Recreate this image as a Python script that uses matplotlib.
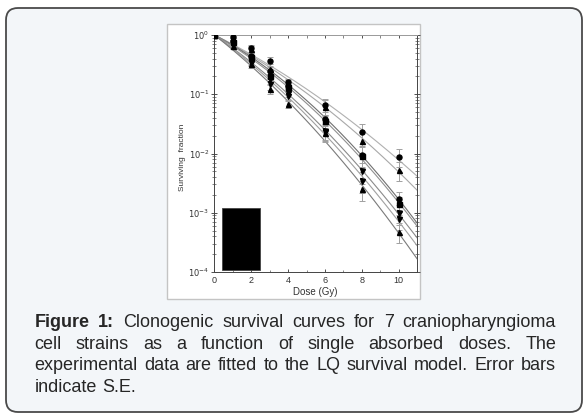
import numpy as np
import matplotlib
matplotlib.use("Agg")
import matplotlib.pyplot as plt
from matplotlib.patches import FancyBboxPatch, Rectangle
from matplotlib.transforms import IdentityTransform
from matplotlib.ticker import LogLocator, FixedLocator, NullFormatter

plt.rcParams['font.family'] = ['Liberation Sans', 'DejaVu Sans']

# ---------------- data ----------------
doses = [0, 1, 2, 3, 4, 6, 8, 10]
strain_a = [1.0, 0.92, 0.60, 0.36, 0.16, 0.065, 0.023, 0.0088]
strain_b = [1.0, 0.86, 0.57, 0.27, 0.15, 0.062, 0.0165, 0.0053]
strain_c = [1.0, 0.80, 0.44, 0.25, 0.14, 0.038, 0.0096, 0.0017]
strain_d = [1.0, 0.76, 0.42, 0.20, 0.13, 0.035, 0.0092, 0.0014]
strain_e = [1.0, 0.72, 0.36, 0.18, 0.105, 0.024, 0.0050, 0.0010]
strain_f = [1.0, 0.68, 0.34, 0.15, 0.095, 0.023, 0.0035, 0.00078]
strain_g = [1.0, 0.65, 0.32, 0.125, 0.068, 0.022, 0.0025, 0.00047]
rel_se = [0.0, 0.10, 0.13, 0.20, 0.15, 0.30, 0.38, 0.34]
markers = ['o', '^', 'o', 's', 'v', 'v', '^']
line_colors = ['#b0b0b0', '#a8a8a8', '#707070', '#909090', '#8a8a8a', '#a0a0a0', '#7a7a7a']
y_tick_values = [1e-4, 1e-3, 1e-2, 1e-1, 1e0]
y_tick_labels = [r'$10^{-4}$', r'$10^{-3}$', r'$10^{-2}$', r'$10^{-1}$', r'$10^{0}$']
x_tick_values = [0, 2, 4, 6, 8, 10]
caption_lines = [
    "Figure 1: Clonogenic survival curves for 7 craniopharyngioma",
    "cell strains as a function of single absorbed doses. The",
    "experimental data are fitted to the LQ survival model. Error bars",
    "indicate S.E.",
]
strains = [strain_a, strain_b, strain_c, strain_d, strain_e, strain_f, strain_g]

W, H = 588, 419
fig = plt.figure(figsize=(W / 100, H / 100), dpi=100)
fig.patch.set_facecolor('white')

# outer rounded box (pixel coords)
box = FancyBboxPatch((6, H - 412), 576, 404,
                     boxstyle='round,pad=0,rounding_size=12',
                     transform=IdentityTransform(), facecolor='#f3f6f9',
                     edgecolor='#4a4a4a', linewidth=1.3, zorder=-5)
fig.add_artist(box)
panel = Rectangle((167, H - 299), 253, 275, transform=IdentityTransform(),
                  facecolor='white', edgecolor='#c4c4c4', linewidth=1.0, zorder=-4)
fig.add_artist(panel)

# axes
L, R, T, B = 213.5, 417, 35, 272
ax = fig.add_axes([L / W, 1 - B / H, (R - L) / W, (B - T) / H])
ax.set_yscale('log')
ax.set_ylim(1e-4, 1.0)
ax.set_xlim(-0.05, 11)

d = np.array(doses, dtype=float)
xx = np.linspace(0, 11, 300)
design = np.column_stack([d, d ** 2])
for s, m, c in zip(strains, markers, line_colors):
    sv = np.array(s)
    coef, *_ = np.linalg.lstsq(design, np.log(sv), rcond=None)
    ax.plot(xx, np.exp(coef[0] * xx + coef[1] * xx ** 2), color=c, lw=0.8, zorder=2)
    ax.errorbar(d, sv, yerr=sv * np.array(rel_se), fmt='none', ecolor='#a0a0a0',
                elinewidth=0.7, capsize=2, capthick=0.7, zorder=3)
    ax.plot(d, sv, linestyle='none', marker=m, color='black', ms=3.6, zorder=4)

# black block (redacted legend)
ax.add_patch(Rectangle((0.43, 1.1e-4), 2.02, 1.19e-3 - 1.1e-4, facecolor='black',
                       edgecolor='#444444', lw=0.6, zorder=5))

ax.yaxis.set_major_locator(FixedLocator(y_tick_values))
ax.set_yticklabels(y_tick_labels)
ax.yaxis.set_minor_locator(LogLocator(base=10, subs=np.arange(2, 10) * 1.0, numticks=20))
ax.yaxis.set_minor_formatter(NullFormatter())
ax.xaxis.set_major_locator(FixedLocator(x_tick_values))
ax.set_xticklabels([str(v) for v in x_tick_values])
ax.xaxis.set_minor_locator(FixedLocator([1, 3, 5, 7, 9, 11]))

ax.tick_params(axis='y', which='major', direction='inout', length=4, width=0.6,
               labelsize=6, pad=1, colors='#333333', left=True, right=True)
ax.tick_params(axis='y', which='minor', direction='inout', length=2.5, width=0.5,
               left=True, right=True, colors='#555555')
ax.tick_params(axis='x', which='major', direction='in', length=2.5, width=0.6,
               labelsize=6.5, pad=3, colors='#333333', top=True, bottom=True)
ax.tick_params(axis='x', which='minor', direction='in', length=1.8, width=0.5,
               top=True, bottom=True, colors='#555555')
for sp in ax.spines.values():
    sp.set_color('#444444')
    sp.set_linewidth(0.7)
ax.spines['top'].set_color('#999999')

fig.text(315 / W, 1 - 292 / H, 'Dose (Gy)', ha='center', va='center', fontsize=7, color='#333333')
fig.text(182 / W, 1 - 157 / H, 'Surviving  fraction', ha='center', va='center',
         rotation=90, fontsize=6, color='#333333')

# justified caption
renderer = fig.canvas.get_renderer()
left_px, right_px = 34.5, 556.0
baselines = [327.0, 348.5, 370.0, 391.5]
fs = 13
tcol = '#262626'
for li, (line, base) in enumerate(zip(caption_lines, baselines)):
    words = line.split()
    objs = []
    for wi, w in enumerate(words):
        bold = (li == 0 and wi < 2)
        t = fig.text(0, 1 - base / H, w, fontsize=fs, color=tcol, va='baseline', ha='left',
                     fontweight='bold' if bold else 'normal')
        objs.append(t)
    widths = [o.get_window_extent(renderer).width for o in objs]
    if li < len(caption_lines) - 1:
        gap = (right_px - left_px - sum(widths)) / (len(words) - 1)
    else:
        gap = 0.278 * fs * 100 / 72
    x = left_px
    for o, wd in zip(objs, widths):
        o.set_x(x / W)
        x += wd + gap

fig.savefig('out.png', dpi=100, facecolor='white')
